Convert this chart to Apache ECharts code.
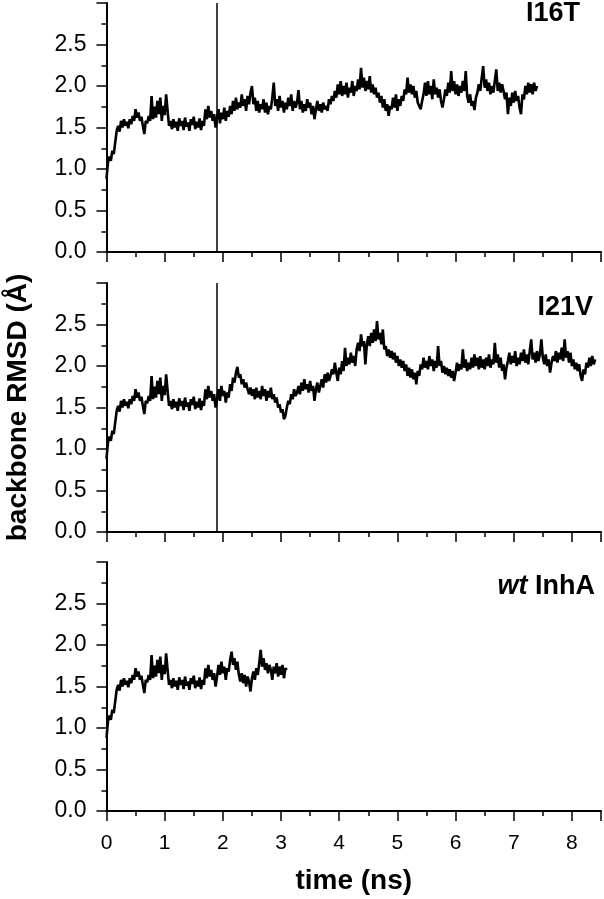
<!DOCTYPE html>
<html>
<head>
<meta charset="utf-8">
<script src="https://cdn.jsdelivr.net/npm/echarts@6/dist/echarts.min.js"></script>
<style>
html,body{margin:0;padding:0;background:#fff;}
#chart{width:604px;height:899px;}
</style>
</head>
<body>
<div id="chart"></div>
<script>
// ---- data (backbone RMSD in Å, sampled every timeStep ns) ----
const timeStep = 0.025;
// shared trajectory 0 – 1.875 ns
const rmsdCommon = [
  0.88, 1.08, 1.15, 1.10, 1.22, 1.18, 1.32, 1.46,
  1.52, 1.45, 1.58, 1.50, 1.60, 1.52, 1.57, 1.49,
  1.60, 1.54, 1.64, 1.58, 1.72, 1.62, 1.68, 1.58,
  1.63, 1.52, 1.42, 1.58, 1.55, 1.64, 1.58, 1.88,
  1.60, 1.75, 1.62, 1.82, 1.66, 1.86, 1.58, 1.76,
  1.65, 1.90, 1.70, 1.52, 1.58, 1.48, 1.60, 1.50,
  1.57, 1.46, 1.61, 1.52, 1.58, 1.47, 1.62, 1.51,
  1.56, 1.46, 1.60, 1.53, 1.63, 1.48, 1.57, 1.50,
  1.61, 1.47, 1.58, 1.52, 1.72, 1.60, 1.76, 1.62,
  1.70, 1.58, 1.66, 1.50
];
// I16T continuation 1.9 – 7.4 ns
const rmsdI16T = [
  1.62, 1.72, 1.55, 1.68, 1.60, 1.74, 1.58, 1.70,
  1.63, 1.76, 1.66, 1.82, 1.70, 1.86, 1.72, 1.80,
  1.74, 1.90, 1.76, 1.84, 1.70, 1.88, 1.78, 1.92,
  2.00, 1.78, 1.86, 1.70, 1.82, 1.68, 1.78, 1.72,
  1.84, 1.68, 1.80, 1.66, 1.76, 1.72, 1.86, 2.04,
  1.76, 1.84, 1.70, 1.88, 1.74, 1.82, 1.68, 1.80,
  1.72, 1.86, 1.76, 1.90, 1.70, 1.82, 1.74, 1.80,
  1.95, 1.72, 1.82, 1.68, 1.78, 1.70, 1.84, 1.74,
  1.80, 1.66, 1.76, 1.60, 1.72, 1.82, 1.70, 1.78,
  1.68, 1.80, 1.72, 1.76, 1.70, 1.84, 1.78, 1.88,
  1.82, 1.94, 1.86, 2.02, 1.90, 2.06, 1.88, 2.00,
  1.90, 2.04, 1.86, 1.98, 1.92, 2.06, 1.88, 2.00,
  1.94, 2.08, 1.96, 2.22, 1.98, 2.10, 1.94, 2.06,
  1.96, 2.12, 1.92, 2.02, 1.90, 1.98, 1.86, 1.92,
  1.80, 1.88, 1.74, 1.84, 1.70, 1.78, 1.64, 1.76,
  1.72, 1.86, 1.74, 1.90, 1.70, 1.84, 1.76, 1.88,
  1.82, 1.96, 1.90, 2.10, 1.92, 2.02, 1.90, 2.00,
  1.86, 1.94, 1.80, 1.76, 1.72, 1.82, 1.90, 2.04,
  1.88, 2.06, 1.90, 2.00, 1.84, 2.08, 1.90, 1.98,
  1.86, 1.96, 1.82, 1.74, 1.84, 1.96, 1.88, 2.04,
  1.92, 2.18, 1.94, 2.06, 1.90, 2.02, 1.88, 2.00,
  1.92, 2.06, 1.94, 2.18, 1.88, 1.80, 1.90, 1.76,
  1.82, 1.71, 1.86, 1.92, 2.02, 1.94, 2.10, 2.24,
  1.98, 2.08, 1.94, 2.04, 1.90, 2.00, 1.92, 2.06,
  2.20, 1.94, 2.04, 1.92, 2.02, 1.94, 1.84, 1.92,
  1.66, 1.86, 1.76, 1.92, 1.80, 1.94, 1.82, 1.88,
  1.74, 1.66, 1.90, 1.84, 2.00, 1.90, 2.04, 1.92,
  2.02, 1.90, 2.04, 1.94, 2.00
];
// I21V continuation 1.9 – 8.4 ns
const rmsdI21V = [
  1.60, 1.72, 1.58, 1.76, 1.64, 1.70, 1.56, 1.68,
  1.62, 1.78, 1.70, 1.86, 1.80, 1.92, 1.99, 1.86,
  1.90, 1.78, 1.84, 1.74, 1.80, 1.72, 1.66, 1.74,
  1.64, 1.72, 1.60, 1.74, 1.62, 1.70, 1.60, 1.76,
  1.64, 1.72, 1.58, 1.70, 1.62, 1.74, 1.60, 1.66,
  1.56, 1.62, 1.50, 1.54, 1.44, 1.48, 1.36, 1.40,
  1.50, 1.58, 1.54, 1.66, 1.60, 1.72, 1.64, 1.68,
  1.76, 1.66, 1.80, 1.70, 1.84, 1.72, 1.78, 1.68,
  1.82, 1.70, 1.76, 1.58, 1.72, 1.80, 1.68, 1.76,
  1.84, 1.74, 1.90, 1.80, 1.92, 1.82, 1.88, 1.96,
  1.90, 2.04, 1.92, 1.82, 1.98, 1.90, 2.06, 1.94,
  2.22, 2.00, 2.10, 2.02, 2.16, 2.04, 2.12, 2.00,
  2.20, 2.28, 2.18, 2.38, 2.24, 2.30, 2.02, 2.26,
  2.36, 2.24, 2.40, 2.28, 2.44, 2.30, 2.54, 2.32,
  2.40, 2.26, 2.44, 2.20, 2.24, 2.12, 2.20, 2.10,
  2.18, 2.08, 2.16, 2.04, 2.12, 2.00, 2.08, 1.98,
  2.06, 1.94, 2.02, 1.88, 1.98, 1.86, 1.96, 1.84,
  1.92, 1.78, 1.94, 1.88, 2.02, 1.96, 2.10, 1.98,
  2.06, 1.96, 2.12, 2.00, 2.08, 1.94, 2.06, 1.98,
  2.24, 2.00, 2.06, 1.92, 2.00, 1.90, 1.98, 1.88,
  1.96, 1.86, 1.94, 1.82, 1.92, 2.04, 1.94, 2.02,
  1.96, 2.20, 1.98, 2.08, 1.94, 2.04, 1.96, 2.10,
  1.98, 2.14, 2.00, 2.10, 1.96, 2.12, 1.98, 2.08,
  1.96, 2.10, 2.00, 2.14, 1.98, 2.08, 2.02, 2.28,
  2.04, 2.14, 1.98, 2.10, 1.94, 2.02, 1.84, 1.98,
  2.06, 2.16, 2.02, 2.12, 2.04, 2.18, 2.00, 2.10,
  2.02, 2.16, 2.06, 2.20, 2.04, 2.14, 2.02, 2.18,
  2.32, 2.08, 2.16, 2.04, 2.18, 2.06, 2.14, 2.32,
  2.10, 2.02, 2.14, 2.00, 2.08, 1.92, 2.04, 2.12,
  2.06, 2.18, 2.04, 2.16, 2.08, 2.22, 2.06, 2.32,
  2.10, 2.18, 2.04, 2.16, 2.00, 2.08, 1.96, 2.04,
  1.94, 2.02, 1.88, 1.82, 1.96, 1.90, 2.04, 1.98,
  2.10, 2.00, 2.12, 2.02, 2.08
];
// wild type continuation 1.9 – 3.1 ns
const rmsdWT = [
  1.62, 1.76, 1.64, 1.80, 1.66, 1.74, 1.58, 1.72,
  1.68, 1.82, 1.92, 1.76, 1.84, 1.70, 1.80, 1.64,
  1.56, 1.66, 1.54, 1.64, 1.50, 1.62, 1.56, 1.44,
  1.60, 1.68, 1.58, 1.72, 1.64, 1.78, 1.94, 1.74,
  1.84, 1.70, 1.78, 1.66, 1.76, 1.70, 1.58, 1.74,
  1.66, 1.78, 1.62, 1.74, 1.64, 1.76, 1.60, 1.72,
  1.70
];
const panelNames = ['I16T', 'I21V', '{i|wt} InhA'];
const branchTime = 1.9;           // vertical marker (ns)
const xRange = [0, 8.5];
const yRange = [0, 3];
const xTitle = 'time (ns)';
const yTitle = 'backbone RMSD (Å)';

// ---- build ----
function toPairs(rest) {
  return rmsdCommon.concat(rest).map((v, i) => [+(i * timeStep).toFixed(3), v]);
}
const seriesData = [toPairs(rmsdI16T), toPairs(rmsdI21V), toPairs(rmsdWT)];

const FONT = '"Liberation Sans", Arial, Helvetica, sans-serif';
const tops = [3, 283, 562];
const H = 249;

const grids = tops.map(t => ({
  left: 106.5, right: 3, top: t, height: H,
  containLabel: false, outerBoundsMode: 'none'
}));

const xAxes = tops.map((t, i) => ({
  type: 'value', gridIndex: i, min: xRange[0], max: xRange[1], interval: 1,
  axisLine: { show: true, onZero: false, lineStyle: { color: '#000', width: 2 } },
  axisTick: { show: true, length: 10, lineStyle: { color: '#000', width: 1.5 } },
  minorTick: { show: true, splitNumber: 2, length: 5, lineStyle: { color: '#000', width: 1.5 } },
  splitLine: { show: false },
  axisLabel: {
    show: i === 2, color: '#000', fontSize: 21, fontFamily: FONT, margin: 22,
    formatter: v => (Math.abs(v - Math.round(v)) < 1e-6 ? String(Math.round(v)) : '')
  },
  name: i === 2 ? xTitle : '', nameLocation: 'middle', nameGap: 56,
  nameTextStyle: { color: '#000', fontSize: 28, fontWeight: 'bold', fontFamily: FONT }
}));

const yAxes = tops.map((t, i) => ({
  type: 'value', gridIndex: i, min: yRange[0], max: yRange[1], interval: 0.5,
  axisLine: { show: true, lineStyle: { color: '#000', width: 2 } },
  axisTick: { show: true, length: 10, lineStyle: { color: '#000', width: 1.5 } },
  minorTick: { show: true, splitNumber: 2, length: 5, lineStyle: { color: '#000', width: 1.5 } },
  splitLine: { show: false },
  axisLabel: {
    color: '#000', fontSize: 23, fontFamily: FONT, margin: 20,
    formatter: v => (v >= 3 ? '' : v.toFixed(1))
  },
  name: i === 1 ? yTitle : '', nameLocation: 'middle', nameGap: 74,
  nameTextStyle: { color: '#000', fontSize: 28, fontWeight: 'bold', fontFamily: FONT }
}));

const series = seriesData.map((d, i) => {
  const s = {
    type: 'line', xAxisIndex: i, yAxisIndex: i, data: d,
    showSymbol: false, symbol: 'none', animation: false, sampling: undefined,
    lineStyle: { color: '#000', width: 2.6, join: 'miter', miterLimit: 2 }
  };
  if (i < 2) {
    s.markLine = {
      silent: true, symbol: ['none', 'none'], animation: false,
      label: { show: false },
      lineStyle: { color: '#000', width: 1.5, type: 'solid' },
      data: [{ xAxis: branchTime }]
    };
  }
  return s;
});

const labelAnchors = [[580, 14], [593, 308], [595, 587]];
const graphics = panelNames.map((n, i) => ({
  type: 'text', x: labelAnchors[i][0], y: labelAnchors[i][1], silent: true,
  style: {
    text: n, fill: '#000', fontSize: 27, fontWeight: 'bold', fontFamily: FONT,
    align: 'right', verticalAlign: 'middle',
    rich: { i: { fontStyle: 'italic', fontWeight: 'bold', fontSize: 27, fontFamily: FONT, fill: '#000' } }
  }
}));

const chart = echarts.init(document.getElementById('chart'), null, { renderer: 'canvas' });
chart.setOption({
  animation: false,
  backgroundColor: '#fff',
  grid: grids,
  xAxis: xAxes,
  yAxis: yAxes,
  series: series,
  graphic: graphics
});
</script>
</body>
</html>
